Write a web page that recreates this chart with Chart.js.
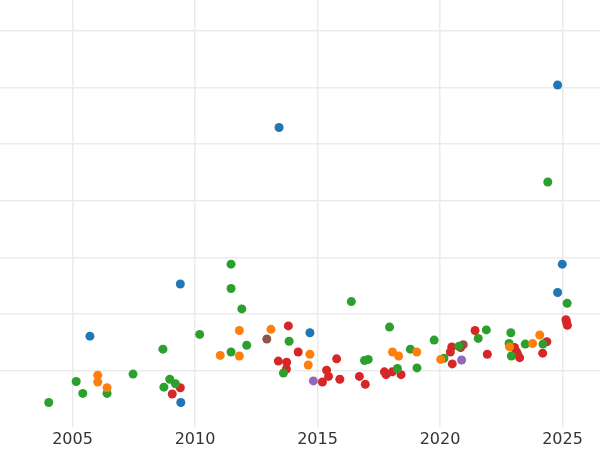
<!DOCTYPE html>
<html>
<head>
<meta charset="utf-8">
<script src="https://cdn.jsdelivr.net/npm/chart.js@4.4.1/dist/chart.umd.min.js"></script>
<style>
  html, body { margin: 0; padding: 0; background: #fff; }
</style>
</head>
<body>
<canvas id="chart" width="600" height="450"></canvas>
<script>
// axis ticks
const xTickYears = [2005, 2010, 2015, 2020, 2025];
const yGridValues = [1, 2, 3, 4, 5, 6, 7];

// points (x = year, y = value)
const blueX = [2005.71, 2009.40, 2009.42, 2013.43, 2014.69, 2024.80, 2024.99, 2024.80];
const blueY = [1.61, 2.53, 0.44, 5.29, 1.67, 6.04, 2.88, 2.38];

const orangeX = [2006.03, 2006.03, 2006.41, 2011.81, 2011.03, 2011.81, 2013.10, 2014.69, 2014.62, 2018.06, 2018.31, 2019.05, 2020.03, 2022.84, 2023.78, 2024.07];
const orangeY = [0.92, 0.80, 0.70, 1.71, 1.27, 1.26, 1.73, 1.29, 1.10, 1.33, 1.26, 1.33, 1.20, 1.42, 1.48, 1.63];

const greenX = [2004.03, 2005.15, 2005.42, 2006.41, 2007.47, 2008.69, 2008.97, 2009.20, 2008.73, 2010.19, 2011.47, 2011.47, 2011.91, 2012.11, 2011.47, 2013.84, 2013.61, 2016.38, 2016.92, 2017.07, 2017.94, 2018.26, 2018.79, 2019.06, 2019.76, 2020.16, 2020.77, 2021.56, 2021.89, 2022.89, 2022.82, 2022.91, 2023.48, 2024.20, 2024.40, 2025.19];
const greenY = [0.44, 0.81, 0.60, 0.60, 0.94, 1.38, 0.85, 0.77, 0.71, 1.64, 2.88, 2.45, 2.09, 1.45, 1.33, 1.52, 0.96, 2.22, 1.18, 1.20, 1.77, 1.04, 1.38, 1.05, 1.54, 1.22, 1.43, 1.57, 1.72, 1.67, 1.48, 1.26, 1.47, 1.47, 4.33, 2.19];

const redX = [2009.40, 2009.07, 2013.81, 2014.21, 2013.40, 2013.74, 2013.73, 2015.78, 2015.37, 2015.45, 2015.20, 2015.91, 2016.71, 2016.95, 2017.73, 2017.80, 2018.05, 2018.41, 2020.42, 2020.48, 2020.50, 2020.84, 2021.43, 2021.93, 2023.04, 2023.11, 2023.16, 2023.25, 2024.36, 2024.19, 2025.14, 2025.17, 2025.20];
const redY = [0.70, 0.59, 1.79, 1.33, 1.17, 1.15, 1.03, 1.21, 1.01, 0.90, 0.80, 0.85, 0.90, 0.76, 0.98, 0.93, 0.98, 0.93, 1.33, 1.42, 1.12, 1.41, 1.71, 1.29, 1.41, 1.34, 1.30, 1.23, 1.51, 1.31, 1.90, 1.85, 1.80];

const purpleX = [2014.83, 2020.88];
const purpleY = [0.82, 1.19];

const brownX = [2012.93, 2020.95];
const brownY = [1.56, 1.46];

const toPoints = (xs, ys) => xs.map((x, i) => ({ x: x, y: ys[i] }));

const makeSet = (xs, ys, color) => ({
    data: toPoints(xs, ys),
    backgroundColor: color,
    borderWidth: 0,
    pointRadius: 4.5,
    pointHoverRadius: 4.5
});

const gridColor = '#ebebeb';

new Chart(document.getElementById('chart').getContext('2d'), {
    type: 'scatter',
    data: {
        datasets: [
            makeSet(blueX, blueY, '#1f77b4'),
            makeSet(orangeX, orangeY, '#ff7f0e'),
            makeSet(greenX, greenY, '#2ca02c'),
            makeSet(redX, redY, '#d62728'),
            makeSet(purpleX, purpleY, '#9467bd'),
            makeSet(brownX, brownY, '#8c564b')
        ]
    },
    options: {
        responsive: false,
        animation: false,
        layout: { padding: 0, autoPadding: false },
        plugins: {
            legend: { display: false },
            tooltip: { enabled: false }
        },
        scales: {
            x: {
                type: 'linear',
                min: 2002.04,
                max: 2026.53,
                afterBuildTicks: (scale) => {
                    scale.ticks = xTickYears.map(v => ({ value: v }));
                },
                // keep the plot bottom at ~427px like the reference
                afterFit: (scale) => {
                    scale.height = 22.6;
                },
                border: { display: false },
                grid: { color: gridColor, lineWidth: 1.5, drawTicks: false },
                ticks: {
                    padding: 4.5,
                    color: '#333333',
                    font: { family: 'DejaVu Sans', size: 16, lineHeight: 1.0 },
                    maxRotation: 0,
                    callback: (v) => String(v)
                }
            },
            y: {
                type: 'linear',
                min: 0,
                max: 7.54,
                afterBuildTicks: (scale) => {
                    scale.ticks = yGridValues.map(v => ({ value: v }));
                },
                border: { display: false },
                grid: { color: gridColor, lineWidth: 1.5, drawTicks: false },
                ticks: { display: false }
            }
        }
    }
});
</script>
</body>
</html>
